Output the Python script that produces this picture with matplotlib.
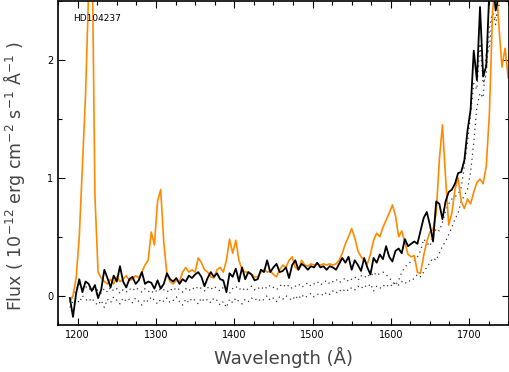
import numpy as np
import matplotlib
matplotlib.use("Agg")
import matplotlib.pyplot as plt
from matplotlib.ticker import MultipleLocator

# wavelength grid, 4 A steps from 1190 to 1750
wave = np.arange(1190, 1751, 4)

flux_orange = [
    -0.05, 0.0, 0.15, 0.5, 1.1, 1.7, 2.6, 3.2, 0.85, 0.2,
    0.15, 0.12, 0.1, 0.14, 0.1, 0.16, 0.12, 0.14, 0.17, 0.13,
    0.14, 0.17, 0.15, 0.2, 0.26, 0.3, 0.54, 0.43, 0.8, 0.9,
    0.45, 0.18, 0.12, 0.1, 0.13, 0.12, 0.2, 0.24, 0.2, 0.22,
    0.2, 0.32, 0.28, 0.22, 0.2, 0.16, 0.15, 0.22, 0.24, 0.2,
    0.3, 0.48, 0.36, 0.47, 0.3, 0.22, 0.2, 0.2, 0.18, 0.16,
    0.16, 0.2, 0.22, 0.2, 0.21, 0.18, 0.16, 0.22, 0.26, 0.24,
    0.3, 0.33, 0.24, 0.22, 0.3, 0.26, 0.25, 0.27, 0.26, 0.27,
    0.26, 0.27, 0.26, 0.27, 0.26, 0.27, 0.3, 0.36, 0.44, 0.5,
    0.57, 0.49, 0.38, 0.33, 0.3, 0.27, 0.35, 0.47, 0.53, 0.5,
    0.58, 0.64, 0.7, 0.77, 0.68, 0.5, 0.55, 0.45, 0.35, 0.33,
    0.34, 0.2, 0.19, 0.34, 0.46, 0.54, 0.56, 0.7, 1.15, 1.45,
    1.0, 0.6, 0.7, 0.9, 1.0, 0.8, 0.74, 0.82, 0.78, 0.88,
    0.96, 0.99, 0.95, 1.1, 1.55, 2.4, 2.7, 2.3, 1.94, 2.1,
    1.85,
]

flux_black = [
    -0.02, -0.18, 0.02, 0.14, 0.03, 0.12, 0.1, 0.04, 0.09, -0.02,
    0.05, 0.22, 0.15, 0.07, 0.17, 0.12, 0.25, 0.12, 0.07, 0.14,
    0.16, 0.1, 0.13, 0.2, 0.1, 0.12, 0.11, 0.06, 0.13, 0.06,
    0.1, 0.19, 0.14, 0.12, 0.15, 0.1, 0.14, 0.12, 0.17, 0.15,
    0.18, 0.2, 0.16, 0.08, 0.15, 0.2, 0.16, 0.19, 0.14, 0.13,
    0.03, 0.19, 0.16, 0.23, 0.12, 0.24, 0.14, 0.2, 0.18, 0.13,
    0.14, 0.22, 0.2, 0.3, 0.2, 0.24, 0.27, 0.2, 0.21, 0.24,
    0.15, 0.26, 0.3, 0.22, 0.27, 0.25, 0.22, 0.25, 0.24, 0.28,
    0.24, 0.25, 0.22, 0.25, 0.24, 0.22, 0.27, 0.32, 0.28, 0.33,
    0.22, 0.3, 0.26, 0.21, 0.32, 0.24, 0.18, 0.32, 0.28, 0.35,
    0.31, 0.42, 0.33, 0.29, 0.38, 0.4, 0.36, 0.48, 0.42, 0.44,
    0.46, 0.44, 0.55, 0.66, 0.71, 0.6, 0.46, 0.8, 0.78, 0.65,
    0.8, 0.88, 0.9, 0.95, 1.04, 1.05, 1.15, 1.4, 1.58, 2.08,
    1.83, 2.45, 1.86, 1.95, 2.6, 2.7, 2.42, 2.55, 2.8, 2.9,
    3.0,
]

flux_dot_a = [
    -0.05, 0.0, 0.05, 0.1, 0.06, 0.08, 0.05, 0.07, 0.04, 0.05,
    0.02, 0.06, 0.03, 0.07, 0.04, 0.06, 0.02, 0.05, 0.03, 0.06,
    0.04, 0.07, 0.05, 0.03, 0.06, 0.04, 0.02, 0.05, 0.03, 0.06,
    0.05, 0.03, 0.06, 0.04, 0.07, 0.05, 0.03, 0.06, 0.04, 0.07,
    0.05, 0.08, 0.06, 0.04, 0.07, 0.05, 0.08, 0.06, 0.04, 0.07,
    0.05, 0.02, 0.06, 0.08, 0.05, 0.07, 0.04, 0.06, 0.08, 0.05,
    0.07, 0.05, 0.08, 0.06, 0.09, 0.07, 0.05, 0.08, 0.1, 0.07,
    0.09, 0.06, 0.08, 0.1, 0.07, 0.09, 0.11, 0.08, 0.1, 0.12,
    0.09, 0.11, 0.13, 0.1, 0.12, 0.14, 0.11, 0.13, 0.15, 0.12,
    0.14, 0.16, 0.13, 0.17, 0.15, 0.18, 0.16, 0.2, 0.17, 0.19,
    0.2, 0.18, 0.15, 0.12, 0.09, 0.13, 0.2, 0.24, 0.27, 0.29,
    0.3, 0.33, 0.38, 0.48, 0.45, 0.42, 0.5, 0.57, 0.55, 0.62,
    0.72, 0.78, 0.82, 0.84, 0.86, 0.92, 1.1, 1.3, 1.55, 1.8,
    1.75, 2.14, 1.8, 1.88, 2.28, 2.4, 2.35, 2.45, 2.6, 2.7,
    2.8,
]

flux_dot_b = [
    -0.1, -0.05, -0.02, -0.06, 0.0, -0.03, -0.05, -0.02, -0.06, -0.08,
    -0.04, -0.1, -0.03, -0.06, -0.01, -0.04, -0.07, -0.02, -0.05, -0.03,
    -0.06, -0.02, -0.05, -0.08, -0.03, -0.05, -0.01, -0.04, -0.07, -0.03,
    -0.05, -0.02, -0.06, -0.04, -0.01, -0.05, -0.08, -0.03, -0.06, -0.02,
    -0.04, -0.07, -0.02, -0.05, -0.03, -0.06, -0.02, -0.04, -0.08, -0.05,
    -0.1, -0.03, -0.06, -0.02, -0.05, -0.07, -0.03, -0.05, -0.02, -0.04,
    -0.02, -0.05, -0.03, 0.0, -0.04, -0.02, -0.05, -0.01, -0.03, 0.0,
    -0.02, -0.04, 0.0, -0.03, 0.01, -0.02, 0.0, 0.02, -0.01, 0.01,
    0.02, 0.0, 0.03, 0.01, 0.04, 0.02, 0.05, 0.03, 0.06, 0.04,
    0.07, 0.05, 0.08, 0.06, 0.09, 0.07, 0.1, 0.04, 0.08, 0.06,
    0.09, 0.07, 0.1, 0.08, 0.11, 0.09, 0.12, 0.1, 0.13, 0.12,
    0.15, 0.18, 0.16, 0.2, 0.24, 0.28, 0.32, 0.3, 0.36, 0.42,
    0.46, 0.52, 0.58, 0.65, 0.7, 0.8, 0.85, 0.9, 1.05, 1.3,
    1.6, 1.72, 1.68, 2.05, 2.1, 2.4, 2.3, 2.5, 2.6, 2.7,
    2.8,
]

star = "HD104237"

fig = plt.figure(figsize=(5.1, 3.72), dpi=100)
ax = fig.add_axes([0.114, 0.126, 0.884, 0.871])

ax.plot(wave, flux_dot_a, color="#333333", lw=0.9, ls=(0, (1, 3)))
ax.plot(wave, flux_dot_b, color="#333333", lw=0.9, ls=(0, (1, 3)))
ax.plot(wave, flux_orange, color="#ff8a00", lw=1.2)
ax.plot(wave, flux_black, color="black", lw=1.3)

ax.set_xlim(1175, 1751)
ax.set_ylim(-0.25, 2.5)
ax.xaxis.set_major_locator(MultipleLocator(100))
ax.xaxis.set_minor_locator(MultipleLocator(25))
ax.yaxis.set_major_locator(MultipleLocator(1))
ax.yaxis.set_minor_locator(MultipleLocator(0.5))
ax.tick_params(which="both", direction="in", top=True, right=True,
               labelsize=7, width=0.8)
ax.tick_params(which="major", length=5)
ax.tick_params(which="minor", length=3)
for s in ax.spines.values():
    s.set_linewidth(1.2)

ax.set_xlabel("Wavelength (Å)", fontsize=13, color="#444444", labelpad=5)
ax.set_ylabel("Flux ( 10$^{-12}$ erg cm$^{-2}$ s$^{-1}$ Å$^{-1}$ )",
              fontsize=12.5, color="#444444")
ax.yaxis.set_label_coords(-0.068, 0.46)
ax.text(0.033, 0.94, star, transform=ax.transAxes, fontsize=6.5)

fig.savefig("out.png", dpi=100)
